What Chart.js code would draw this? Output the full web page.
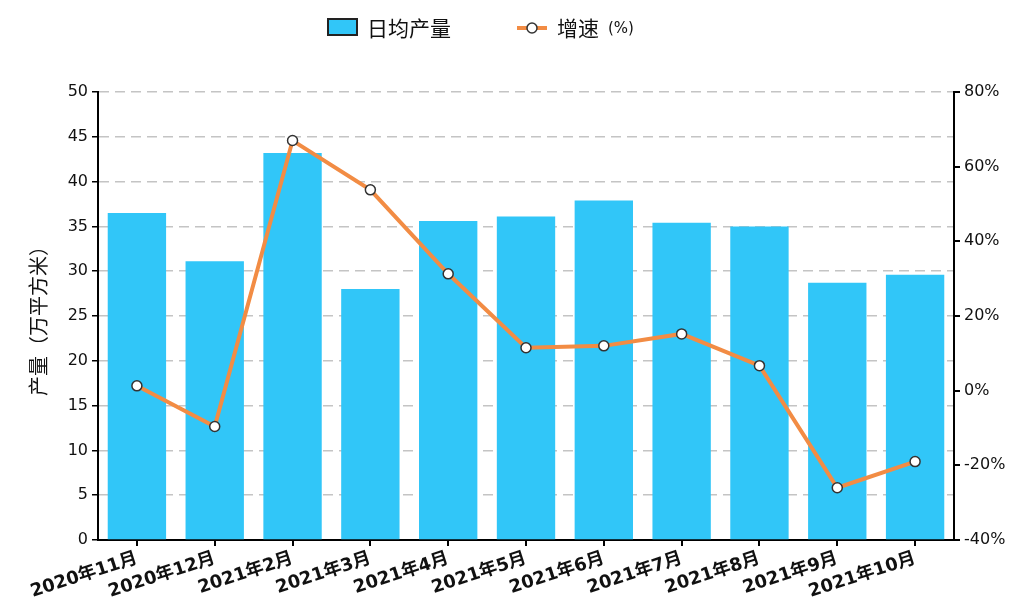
<!DOCTYPE html>
<html>
<head>
<meta charset="utf-8">
<script src="https://cdn.jsdelivr.net/npm/chart.js@4"></script>
<style>
    html, body { margin: 0; padding: 0; background: #fff; }
    #wrap { width: 1019px; height: 612px; position: relative; }
</style>
</head>
<body>
<div id="wrap"><canvas id="mixChart" width="1019" height="612"></canvas></div>
<script>
// data
const categories = ['2020年11月', '2020年12月', '2021年2月', '2021年3月', '2021年4月', '2021年5月',
    '2021年6月', '2021年7月', '2021年8月', '2021年9月', '2021年10月'];
const dailyOutput = [36.5, 31.1, 43.2, 28.0, 35.6, 36.1, 37.9, 35.4, 35.0, 28.7, 29.6];
const growthRate = [1.3, -9.6, 67.0, 53.8, 31.3, 11.5, 12.0, 15.2, 6.7, -26.0, -19.0];
const leftTicks = [0, 50, 5];
const rightTicks = [-40, 80, 20];

const BAR_COLOR = '#31C6F8';
const LINE_COLOR = '#F28C44';
const TICK_FONT = { family: '"DejaVu Sans", "Noto Sans CJK SC"', size: 16 };

// legend drawn by hand (box + line/marker icons)
const legendPlugin = {
    id: 'handLegend',
    afterDraw(chart) {
        const ctx = chart.ctx;
        ctx.save();
        // bar item
        ctx.fillStyle = BAR_COLOR;
        ctx.fillRect(328, 19, 29, 16);
        ctx.strokeStyle = '#222';
        ctx.lineWidth = 2;
        ctx.strokeRect(328, 19, 29, 16);
        ctx.fillStyle = '#111';
        ctx.textBaseline = 'middle';
        ctx.font = '21px "Noto Sans CJK SC"';
        ctx.fillText('日均产量', 367, 28);

        // line item
        ctx.strokeStyle = LINE_COLOR;
        ctx.lineWidth = 4;
        ctx.beginPath();
        ctx.moveTo(517, 28);
        ctx.lineTo(547, 28);
        ctx.stroke();
        ctx.beginPath();
        ctx.arc(532, 28, 5, 0, Math.PI * 2);
        ctx.fillStyle = '#fff';
        ctx.fill();
        ctx.strokeStyle = '#333';
        ctx.lineWidth = 1.5;
        ctx.stroke();
        ctx.fillStyle = '#111';
        ctx.font = '21px "Noto Sans CJK SC"';
        ctx.fillText('增速', 557, 28);
        ctx.font = '15px "DejaVu Sans"';
        ctx.fillText('(%)', 608, 29);
        ctx.restore();
    }
};

const ctx = document.getElementById('mixChart').getContext('2d');
new Chart(ctx, {
    type: 'bar',
    data: {
        labels: categories,
        datasets: [{
            type: 'line',
            label: '增速(%)',
            data: growthRate,
            yAxisID: 'y1',
            borderColor: LINE_COLOR,
            borderWidth: 4,
            pointRadius: 5,
            pointBackgroundColor: '#fff',
            pointBorderColor: '#333',
            pointBorderWidth: 1.5,
            tension: 0,
            order: 0
        }, {
            label: '日均产量',
            data: dailyOutput,
            yAxisID: 'y',
            backgroundColor: BAR_COLOR,
            borderWidth: 0,
            barPercentage: 0.75,
            categoryPercentage: 1,
            order: 1
        }]
    },
    options: {
        responsive: false,
        animation: false,
        layout: { padding: { top: 92, left: 0, right: 0, bottom: 0 } },
        plugins: {
            legend: { display: false },
            tooltip: { enabled: false }
        },
        scales: {
            x: {
                afterFit: s => { s.height = 72; },
                grid: { display: true, drawOnChartArea: false, offset: false, tickLength: 6, tickColor: '#000', lineWidth: 2 },
                border: { display: true, color: '#000', width: 2 },
                ticks: {
                    color: '#111',
                    font: { family: '"DejaVu Sans", "Noto Sans CJK SC"', size: 18, weight: 'bold' },
                    minRotation: 18,
                    maxRotation: 18,
                    autoSkip: false,
                    padding: 2
                }
            },
            y: {
                position: 'left',
                min: leftTicks[0],
                max: leftTicks[1],
                afterFit: s => { s.width = 98; },
                ticks: { stepSize: leftTicks[2], color: '#111', font: TICK_FONT, padding: 4 },
                grid: { color: '#c4c4c4', lineWidth: 1.5, tickColor: '#000', tickLength: 6, tickBorderDash: [] },
                border: { display: true, color: '#000', width: 2, dash: [10, 6] },
                title: {
                    display: true,
                    text: '产量（万平方米）',
                    color: '#111',
                    font: { family: '"Noto Sans CJK SC"', size: 20 },
                    padding: { top: 26, bottom: 4 }
                }
            },
            y1: {
                position: 'right',
                min: rightTicks[0],
                max: rightTicks[1],
                afterFit: s => { s.width = 65; },
                ticks: {
                    stepSize: rightTicks[2],
                    color: '#111',
                    font: TICK_FONT,
                    padding: 4,
                    callback: v => v + '%'
                },
                grid: { drawOnChartArea: false, tickColor: '#000', tickLength: 6, lineWidth: 2 },
                border: { display: true, color: '#000', width: 2 }
            }
        }
    },
    plugins: [legendPlugin]
});
</script>
</body>
</html>
